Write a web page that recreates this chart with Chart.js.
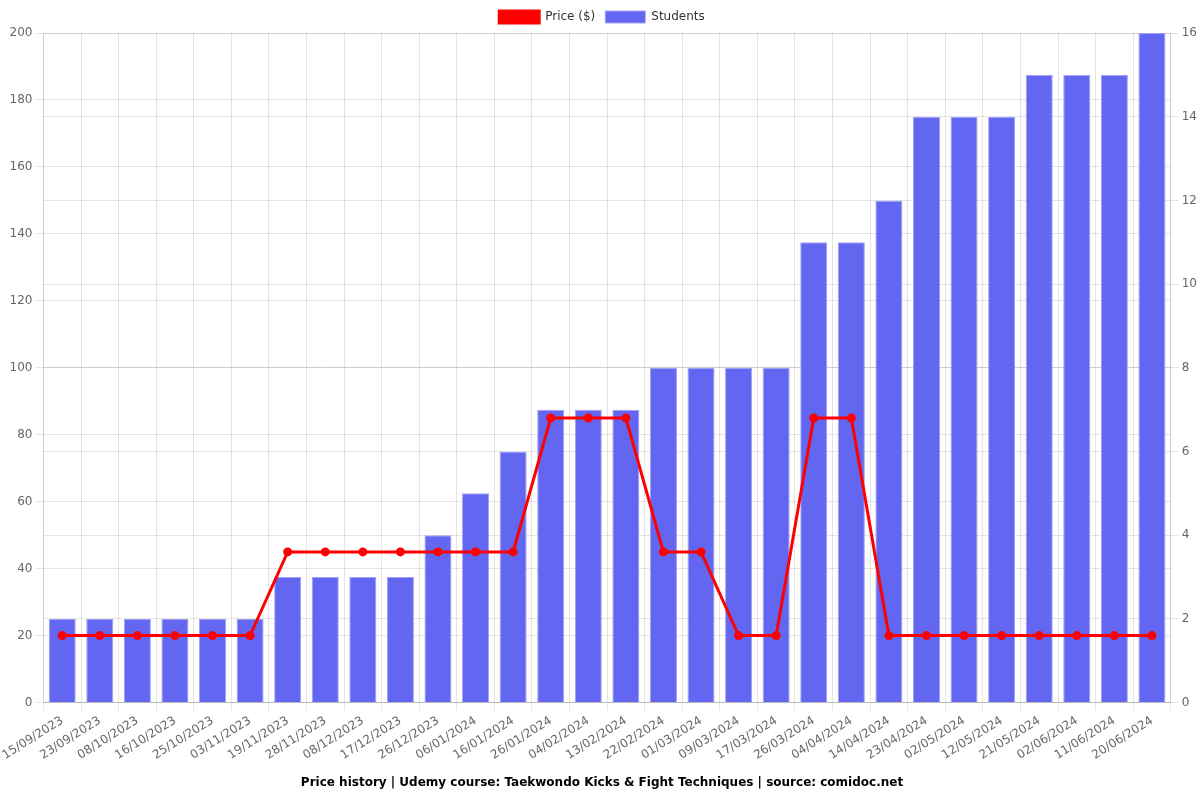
<!DOCTYPE html>
<html>
<head>
<meta charset="utf-8">
<script src="https://cdn.jsdelivr.net/npm/chart.js@4"></script>
<style>
  body { margin: 0; background: white; }
  #wrap { width: 1200px; height: 800px; }
</style>
</head>
<body>
<div id="wrap"><canvas id="chart"></canvas></div>
<script>
const dates = ['15/09/2023', '23/09/2023', '08/10/2023', '16/10/2023', '25/10/2023', '03/11/2023',
    '19/11/2023', '28/11/2023', '08/12/2023', '17/12/2023', '26/12/2023', '06/01/2024',
    '16/01/2024', '26/01/2024', '04/02/2024', '13/02/2024', '22/02/2024', '01/03/2024',
    '09/03/2024', '17/03/2024', '26/03/2024', '04/04/2024', '14/04/2024', '23/04/2024',
    '02/05/2024', '12/05/2024', '21/05/2024', '02/06/2024', '11/06/2024', '20/06/2024'];
const price = [20, 20, 20, 20, 20, 20, 45, 45, 45, 45, 45, 45, 45, 85, 85, 85, 45, 45,
    20, 20, 85, 85, 20, 20, 20, 20, 20, 20, 20, 20];
const students = [2, 2, 2, 2, 2, 2, 3, 3, 3, 3, 4, 5, 6, 7, 7, 7, 8, 8,
    8, 8, 11, 11, 12, 14, 14, 14, 15, 15, 15, 16];

Chart.defaults.font.family = 'DejaVu Sans';
Chart.defaults.color = '#666';

var ctx = document.getElementById('chart');
var chart = new Chart(ctx, {
    type: 'bar',
    data: {
        labels: dates,
        datasets: [
            {
                type: 'line',
                label: 'Price ($)',
                data: price,
                yAxisID: 'y',
                borderColor: 'red',
                backgroundColor: 'red',
                borderWidth: 3,
                pointRadius: 3,
                pointBackgroundColor: 'red',
                tension: 0,
                order: 0
            },
            {
                type: 'bar',
                label: 'Students',
                data: students,
                yAxisID: 'y1',
                backgroundColor: '#6366f1',
                borderColor: 'rgba(160,160,245,1)',
                borderWidth: 1,
                order: 1
            }
        ]
    },
    options: {
        responsive: true,
        maintainAspectRatio: false,
        animation: false,
        layout: { padding: { left: 4, top: 1 } },
        scales: {
            x: {
                ticks: { autoSkip: false, font: { size: 12 } }
            },
            y: {
                position: 'left',
                min: 0,
                max: 200,
                ticks: { stepSize: 20, font: { size: 12 } }
            },
            y1: {
                position: 'right',
                min: 0,
                max: 16,
                ticks: { stepSize: 2, font: { size: 12 } }
            }
        },
        plugins: {
            legend: {
                position: 'top',
                labels: { font: { size: 12 }, color: '#333' }
            },
            title: {
                display: true,
                position: 'bottom',
                text: 'Price history | Udemy course: Taekwondo Kicks & Fight Techniques | source: comidoc.net',
                color: '#000',
                font: { size: 12, weight: 'bold' }
            }
        }
    }
});
</script>
</body>
</html>
